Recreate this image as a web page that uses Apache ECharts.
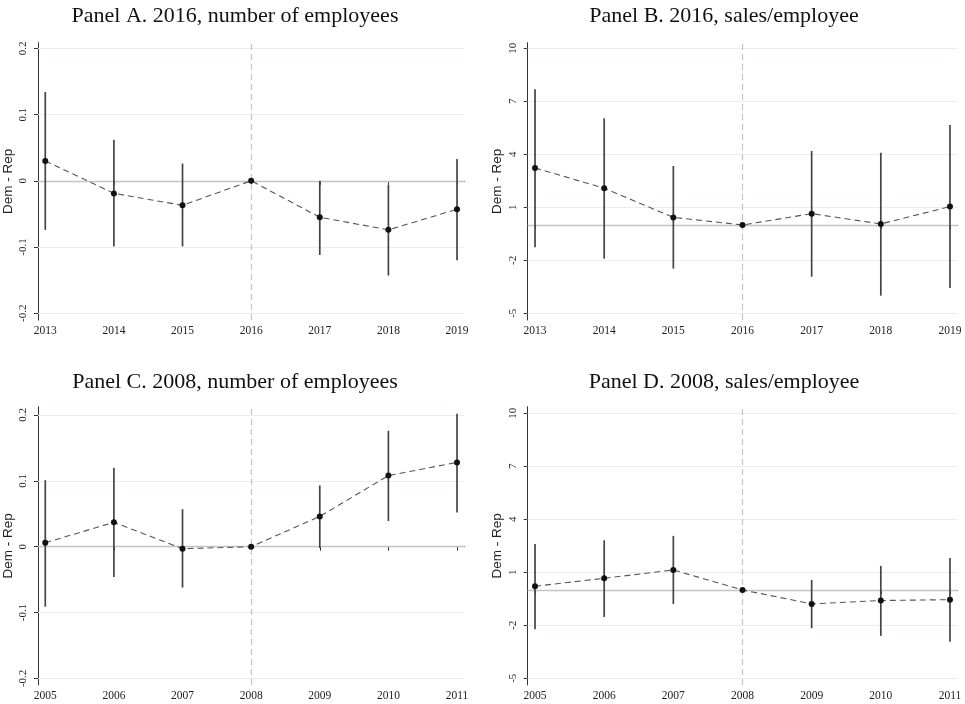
<!DOCTYPE html>
<html>
<head>
<meta charset="utf-8">
<script src="https://cdn.jsdelivr.net/npm/echarts@6/dist/echarts.min.js"></script>
<style>
html, body { margin: 0; padding: 0; background: #fff; }
#container { width: 965px; height: 704px; }
</style>
</head>
<body>
<div id="container"></div>
<script>
// panel titles
var titles = [
  'Panel A. 2016, number of employees',
  'Panel B. 2016, sales/employee',
  'Panel C. 2008, number of employees',
  'Panel D. 2008, sales/employee'
]

// years on the x axis
var years2016 = [2013, 2014, 2015, 2016, 2017, 2018, 2019]
var years2008 = [2005, 2006, 2007, 2008, 2009, 2010, 2011]

// y tick labels
var ticksEmp = [-0.2, -0.1, 0, 0.1, 0.2]
var ticksSales = [-5, -2, 1, 4, 7, 10]

// Panel A: 2016, number of employees
var estA = [0.030, -0.019, -0.037, 0, -0.055, -0.074, -0.043]
var lowA = [-0.074, -0.099, -0.099, null, -0.112, -0.143, -0.120]
var highA = [0.134, 0.062, 0.026, null, 0.000, -0.006, 0.033]

// Panel B: 2016, sales/employee
var estB = [3.23, 2.08, 0.43, 0, 0.64, 0.06, 1.04]
var lowB = [-1.26, -1.91, -2.47, null, -2.93, -4.00, -3.57]
var highB = [7.68, 6.04, 3.34, null, 4.19, 4.09, 5.66]

// Panel C: 2008, number of employees
var estC = [0.006, 0.037, -0.003, 0, 0.046, 0.108, 0.128]
var lowC = [-0.091, -0.046, -0.062, null, -0.002, 0.039, 0.052]
var highC = [0.101, 0.120, 0.057, null, 0.093, 0.176, 0.202]

// Panel D: 2008, sales/employee
var estD = [0.21, 0.66, 1.13, 0, -0.79, -0.60, -0.55]
var lowD = [-2.23, -1.53, -0.79, null, -2.17, -2.60, -2.93]
var highD = [2.60, 2.81, 3.06, null, 0.57, 1.36, 1.81]

var dom = document.getElementById('container')
var myChart = echarts.init(dom)

var panels = [
  { years: years2016, est: estA, low: lowA, high: highA, base: 2016, ticks: ticksEmp, ymin: -0.2101, ymax: 0.2084,
    grid: { left: 35, top: 42.7, width: 429.3, height: 277.3 } },
  { years: years2016, est: estB, low: lowB, high: highB, base: 2016, ticks: ticksSales, ymin: -5.38, ymax: 10.32,
    grid: { left: 527.7, top: 42.7, width: 429.6, height: 277.3 } },
  { years: years2008, est: estC, low: lowC, high: highC, base: 2008, ticks: ticksEmp, ymin: -0.21, ymax: 0.2126,
    grid: { left: 35, top: 406.7, width: 429.3, height: 278.3 } },
  { years: years2008, est: estD, low: lowD, high: highD, base: 2008, ticks: ticksSales, ymin: -5.38, ymax: 10.37,
    grid: { left: 527.7, top: 406.7, width: 429.6, height: 278.3 } }
]

var titlePos = [[235, 16], [724, 16], [235, 382], [724, 382]]

var grids = [], xAxes = [], yAxes = [], series = [], graphics = []

panels.forEach(function (p, i) {
  grids.push(p.grid)
  xAxes.push({
    type: 'value',
    gridIndex: i,
    min: p.years[0] - 0.106,
    max: p.years[p.years.length - 1] + 0.106,
    splitLine: { show: false },
    axisLine: { show: true, lineStyle: { color: '#333', width: 1 } },
    axisTick: { show: true, length: 4, customValues: p.years, lineStyle: { color: '#333' } },
    axisLabel: {
      customValues: p.years,
      margin: 5,
      fontFamily: 'Liberation Serif',
      fontSize: 11.5,
      color: '#222',
      formatter: function (v) { return String(Math.round(v)) }
    }
  })
  yAxes.push({
    type: 'value',
    gridIndex: i,
    min: p.ymin,
    max: p.ymax,
    name: 'Dem - Rep',
    nameLocation: 'middle',
    nameGap: 23,
    nameTextStyle: { fontFamily: 'Liberation Sans', fontSize: 13.5, color: '#222' },
    splitLine: { show: false },
    axisLine: { show: true, lineStyle: { color: '#333', width: 1 } },
    axisTick: { show: true, length: 4, customValues: p.ticks, lineStyle: { color: '#333' } },
    axisLabel: {
      customValues: p.ticks,
      rotate: 90,
      margin: 9,
      fontFamily: 'Liberation Serif',
      fontSize: 11,
      color: '#222',
      formatter: function (v) { return String(+(+v).toFixed(2)) }
    }
  })

  // grid lines, zero line and the base-year line
  var marks = p.ticks.filter(function (t) { return t !== 0 }).map(function (t) {
    return { yAxis: t, lineStyle: { color: '#e6eff1', width: 1, type: 'solid' } }
  })
  marks.push({ yAxis: 0, lineStyle: { color: '#c4c4c4', width: 1.3, type: 'solid' } })
  marks.push({ xAxis: p.base, lineStyle: { color: '#c4c4c4', width: 1.2, type: [6, 4] } })

  var barData = []
  p.years.forEach(function (y, k) {
    if (p.low[k] != null) barData.push([y, p.low[k], p.high[k]])
  })

  series.push({
    type: 'custom',
    xAxisIndex: i,
    yAxisIndex: i,
    silent: true,
    z: 3,
    data: barData,
    encode: { x: 0, y: [1, 2] },
    renderItem: function (params, api) {
      var x = api.value(0)
      var lo = api.coord([x, api.value(1)])
      var hi = api.coord([x, api.value(2)])
      return {
        type: 'line',
        shape: { x1: lo[0], y1: lo[1], x2: hi[0], y2: hi[1] },
        style: { stroke: '#444', lineWidth: 1.7 }
      }
    },
    markLine: {
      silent: true,
      symbol: 'none',
      label: { show: false },
      animation: false,
      z: 1,
      data: marks
    }
  })

  series.push({
    type: 'line',
    xAxisIndex: i,
    yAxisIndex: i,
    z: 4,
    data: p.years.map(function (y, k) { return [y, p.est[k]] }),
    symbol: 'circle',
    symbolSize: 6,
    itemStyle: { color: '#111' },
    lineStyle: { color: '#555', width: 1.1, type: [6, 4] }
  })

  graphics.push({
    type: 'text',
    x: titlePos[i][0],
    y: titlePos[i][1],
    style: {
      text: titles[i],
      fontFamily: 'Liberation Serif',
      fontSize: 22,
      fill: '#111',
      align: 'center',
      verticalAlign: 'middle'
    }
  })
})

option = {
  backgroundColor: '#fff',
  animation: false,
  grid: grids,
  xAxis: xAxes,
  yAxis: yAxes,
  series: series,
  graphic: graphics
}

myChart.setOption(option)
</script>
</body>
</html>
